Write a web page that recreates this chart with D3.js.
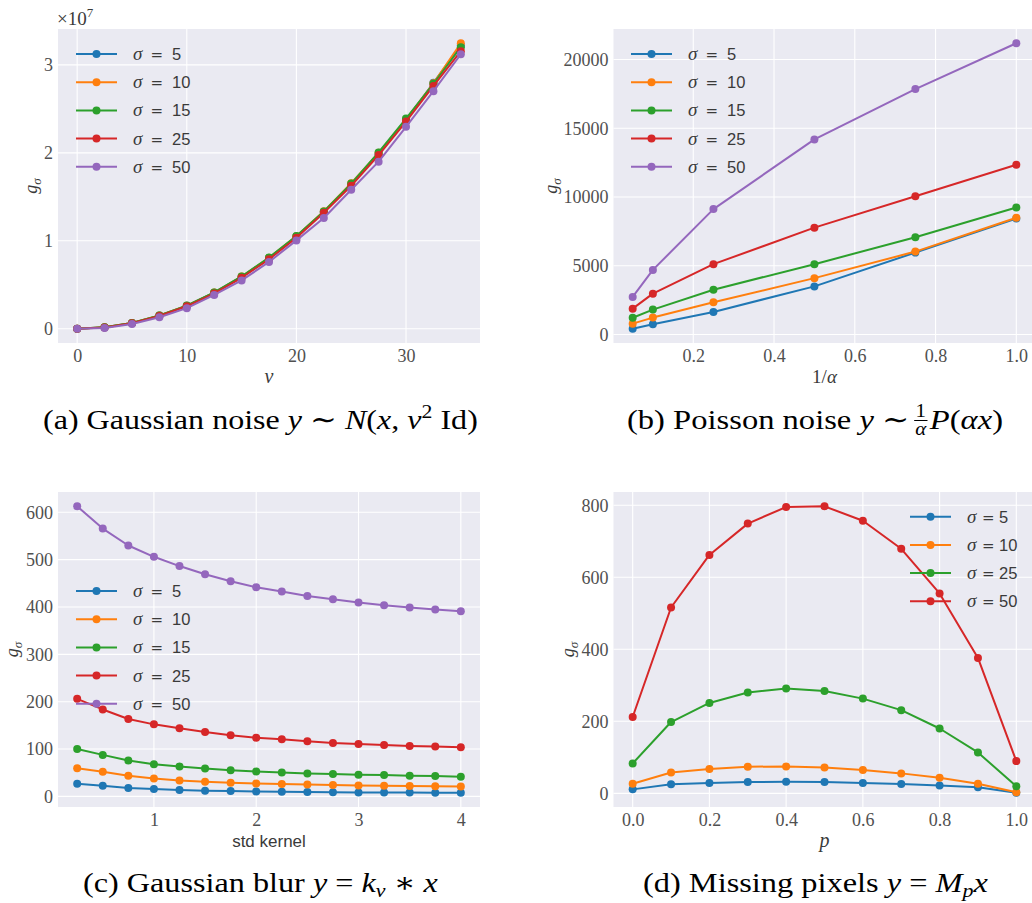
<!DOCTYPE html>
<html><head><meta charset="utf-8">
<script src="https://cdn.jsdelivr.net/npm/d3@7"></script>
<style>
body{margin:0;background:#fff;overflow:hidden;}
svg{display:block;}
</style></head><body>
<svg id="chart" width="1032" height="903"></svg>
<script>
// ---------- DATA ----------
const colorsFive = ["#1f77b4","#ff7f0e","#2ca02c","#d62728","#9467bd"];
const colorsFour = ["#1f77b4","#ff7f0e","#2ca02c","#d62728"];
const sigmaFive = ["5","10","15","25","50"];
const sigmaFour = ["5","10","25","50"];

// (a) Gaussian noise
const nuValues = [0,2.5,5,7.5,10,12.5,15,17.5,20,22.5,25,27.5,30,32.5,35];
const gaussS5  = [0.002e7,0.017e7,0.066e7,0.150e7,0.262e7,0.410e7,0.590e7,0.803e7,1.048e7,1.327e7,1.640e7,1.985e7,2.365e7,2.795e7,3.220e7];
const gaussS10 = [0.002e7,0.017e7,0.067e7,0.151e7,0.263e7,0.412e7,0.594e7,0.807e7,1.053e7,1.335e7,1.655e7,2.000e7,2.380e7,2.790e7,3.245e7];
const gaussS15 = [0.002e7,0.017e7,0.066e7,0.152e7,0.264e7,0.413e7,0.595e7,0.810e7,1.055e7,1.333e7,1.650e7,2.005e7,2.390e7,2.785e7,3.200e7];
const gaussS25 = [0.002e7,0.016e7,0.064e7,0.147e7,0.256e7,0.402e7,0.580e7,0.790e7,1.035e7,1.318e7,1.625e7,1.975e7,2.355e7,2.760e7,3.155e7];
const gaussS50 = [0.001e7,0.010e7,0.055e7,0.132e7,0.235e7,0.385e7,0.550e7,0.760e7,1.005e7,1.260e7,1.580e7,1.900e7,2.295e7,2.700e7,3.120e7];
const gaussXTicks = [0,10,20,30];
const gaussYTicks = [0,1e7,2e7,3e7];

// (b) Poisson noise
const invAlpha = [0.05,0.1,0.25,0.5,0.75,1.0];
const poisS5  = [420,740,1640,3500,5960,8440];
const poisS10 = [790,1230,2340,4100,6030,8490];
const poisS15 = [1220,1810,3260,5115,7070,9240];
const poisS25 = [1880,2970,5115,7770,10060,12350];
const poisS50 = [2730,4700,9120,14190,17850,21180];
const poisXTicks = [0.2,0.4,0.6,0.8,1.0];
const poisYTicks = [0,5000,10000,15000,20000];

// (c) Gaussian blur
const stdKernel = [0.25,0.5,0.75,1.0,1.25,1.5,1.75,2.0,2.25,2.5,2.75,3.0,3.25,3.5,3.75,4.0];
const blurS5  = [26.6,22.4,17.5,15.4,13.3,11.9,11.2,10.5,9.8,9.1,8.6,8.4,8.2,8.0,7.9,7.8];
const blurS10 = [59.6,51.9,43.5,37.9,33.6,30.8,28.7,27.3,25.9,25.2,23.8,23.1,22.4,21.7,21.2,21.0];
const blurS15 = [100.2,87.6,75.7,68.0,63.1,58.9,55.4,52.6,50.5,48.4,47.0,45.6,44.9,43.5,42.8,41.4];
const blurS25 = [206,183.6,163.3,152.1,143.7,136,129,124,120.6,116.4,112.9,110.7,108.6,106.5,105.1,103.7];
const blurS50 = [612.6,565.6,529.9,506,486.4,469,454.2,441.6,432.5,423.4,416.4,409.3,403.7,398.8,394.6,391.1];
const blurXTicks = [1,2,3,4];
const blurYTicks = [0,100,200,300,400,500,600];

// (d) Missing pixels
const pValues = [0,0.1,0.2,0.3,0.4,0.5,0.6,0.7,0.8,0.9,1.0];
const missS5  = [11,25,28.6,31.4,32.3,31.4,28.6,25.8,22,16.6,1.8];
const missS10 = [26.8,58,67.4,73.8,74.7,72,64.6,55.4,43.4,26.8,2.8];
const missS25 = [83,198,251,280,291,284,263,231,180,113.5,19.4];
const missS50 = [212,516,662,749,795,797,757,679,555,376,89.5];
const missXTicks = [0,0.2,0.4,0.6,0.8,1.0];
const missYTicks = [0,200,400,600,800];

// ---------- STYLE ----------
const SERIF = "'Liberation Serif','DejaVu Serif',serif";
const SANS = "'Liberation Sans','DejaVu Sans',sans-serif";
const TICK_COLOR = "#505050";
const TEXT_COLOR = "#3a3a3a";
const svg = d3.select("#chart");

function rich(sel, parts){
  let shift = 0;
  parts.forEach(p=>{
    const ts = sel.append("tspan").text(p.t);
    if(p.i) ts.attr("font-style","italic");
    if(p.f) ts.attr("font-family",p.f);
    if(p.s) ts.attr("font-size",p.s);
    if(p.dx) ts.attr("dx",p.dx);
    const target = p.dy || 0;
    if(target !== shift){ ts.attr("dy", target - shift); shift = target; }
  });
  return sel;
}

function pad(lo,hi){ const r = hi-lo; return [lo-0.05*r, hi+0.05*r]; }

function drawPanel(p){
  const g = svg.append("g").attr("transform",`translate(${p.left},${p.top})`);
  const all = p.series.flat();
  const x = d3.scaleLinear().domain(pad(d3.min(p.x), d3.max(p.x))).range([0,p.width]);
  const y = d3.scaleLinear().domain(pad(d3.min(all), d3.max(all))).range([p.height,0]);

  g.append("rect").attr("width",p.width).attr("height",p.height).attr("fill","#eaeaf2");
  g.append("g").selectAll("line").data(p.xTicks).enter().append("line")
    .attr("x1",d=>x(d)).attr("x2",d=>x(d)).attr("y1",0).attr("y2",p.height)
    .attr("stroke","#fff").attr("stroke-width",1.1);
  g.append("g").selectAll("line").data(p.yTicks).enter().append("line")
    .attr("y1",d=>y(d)).attr("y2",d=>y(d)).attr("x1",0).attr("x2",p.width)
    .attr("stroke","#fff").attr("stroke-width",1.1);

  const xa = g.append("g").attr("transform",`translate(0,${p.height})`)
    .call(d3.axisBottom(x).tickValues(p.xTicks).tickFormat(p.xFmt).tickSize(0).tickPadding(6));
  xa.attr("font-family",SERIF).attr("font-size",18);
  xa.select(".domain").remove();
  xa.selectAll("text").attr("font-family",SERIF).attr("font-size",18).attr("fill",TICK_COLOR);
  const ya = g.append("g")
    .call(d3.axisLeft(y).tickValues(p.yTicks).tickFormat(p.yFmt).tickSize(0).tickPadding(5));
  ya.attr("font-family",SERIF).attr("font-size",18);
  ya.select(".domain").remove();
  ya.selectAll("text").attr("font-family",SERIF).attr("font-size",18).attr("fill",TICK_COLOR);

  const line = d3.line().x(d=>x(d[0])).y(d=>y(d[1]));
  p.series.forEach((s,i)=>{
    const data = p.x.map((xv,j)=>[xv,s[j]]);
    g.append("path").datum(data).attr("d",line).attr("fill","none")
      .attr("stroke",p.colors[i]).attr("stroke-width",2).attr("stroke-linejoin","round");
    g.append("g").selectAll("circle").data(data).enter().append("circle")
      .attr("cx",d=>x(d[0])).attr("cy",d=>y(d[1])).attr("r",4).attr("fill",p.colors[i]);
  });

  // legend
  const L = p.legend;
  p.labels.forEach((lab,i)=>{
    const ry = L.y + i*28.2;
    g.append("line").attr("x1",L.x).attr("x2",L.x+41).attr("y1",ry).attr("y2",ry)
      .attr("stroke",p.colors[i]).attr("stroke-width",2);
    g.append("circle").attr("cx",L.x+20.5).attr("cy",ry).attr("r",4).attr("fill",p.colors[i]);
    const t = g.append("text").attr("y",ry+6).attr("fill",TEXT_COLOR).attr("font-size",17);
    t.append("tspan").attr("x",L.x+57).attr("font-family",SERIF).attr("font-style","italic").attr("font-size",19).text("σ");
    t.append("tspan").attr("x",L.x+57+L.eq).attr("font-family","'DejaVu Serif',serif").attr("font-size",15).text("=");
    t.append("tspan").attr("x",L.x+57+L.num).attr("font-family",SANS).attr("font-size",16.5).text(lab);
  });

  // x label
  const xl = g.append("text").attr("x",p.width/2).attr("y",p.height+40)
    .attr("text-anchor","middle").attr("fill",TEXT_COLOR).attr("font-family",SERIF).attr("font-size",19);
  rich(xl,p.xLabel);
  // y label
  const yl = g.append("text").attr("transform",`translate(${p.yLabelX},${p.height/2}) rotate(-90)`)
    .attr("text-anchor","middle").attr("fill",TEXT_COLOR).attr("font-family",SERIF).attr("font-size",18);
  rich(yl,[{t:"g",i:1},{t:"σ",i:1,s:13,dy:4}]);
  return g;
}

// Panel (a)
const gA = drawPanel({left:58,top:29,width:422,height:314,
  x:nuValues, series:[gaussS5,gaussS10,gaussS15,gaussS25,gaussS50], colors:colorsFive, labels:sigmaFive,
  xTicks:gaussXTicks, yTicks:gaussYTicks, xFmt:d3.format("d"), yFmt:d=>d3.format("d")(d/1e7),
  legend:{x:18,y:25,eq:17.5,num:39}, xLabel:[{t:"ν",i:1,s:20}], yLabelX:-21});
const off = gA.append("text").attr("x",-1).attr("y",-4).attr("fill",TEXT_COLOR)
  .attr("font-family",SERIF).attr("font-size",19);
rich(off,[{t:"×10"},{t:"7",s:13,dy:-8}]);

// Panel (b)
drawPanel({left:613.5,top:29,width:422,height:314,
  x:invAlpha, series:[poisS5,poisS10,poisS15,poisS25,poisS50], colors:colorsFive, labels:sigmaFive,
  xTicks:poisXTicks, yTicks:poisYTicks, xFmt:d3.format(".1f"), yFmt:d3.format("d"),
  legend:{x:17.5,y:25,eq:17.5,num:39}, xLabel:[{t:"1/"},{t:"α",i:1}], yLabelX:-57});

// Panel (c)
drawPanel({left:58,top:492,width:422,height:315,
  x:stdKernel, series:[blurS5,blurS10,blurS15,blurS25,blurS50], colors:colorsFive, labels:sigmaFive,
  xTicks:blurXTicks, yTicks:blurYTicks, xFmt:d3.format("d"), yFmt:d3.format("d"),
  legend:{x:18,y:99,eq:17.5,num:39}, xLabel:[{t:"std kernel",f:SANS,s:17}], yLabelX:-40});

// Panel (d)
drawPanel({left:613.5,top:492,width:422,height:315,
  x:pValues, series:[missS5,missS10,missS25,missS50], colors:colorsFour, labels:sigmaFour,
  xTicks:missXTicks, yTicks:missYTicks, xFmt:d3.format(".1f"), yFmt:d3.format("d"),
  legend:{x:296.5,y:24.7,eq:15,num:32},xLabel:[{t:"p",i:1,s:20}], yLabelX:-40});

// ---------- CAPTIONS ----------
function caption(cx, base, targetW, partsBefore, frac, partsAfter){
  const g = svg.append("g");
  const mk = (parts)=>{ const t = g.append("text").attr("y",base).attr("font-family",SERIF)
      .attr("font-size",28).attr("fill","#000"); rich(t,parts); return t; };
  const t1 = mk(partsBefore).attr("x",0);
  let w = t1.node().getComputedTextLength();
  if(frac){
    w += 4;
    const n = g.append("text").attr("y",base-12).attr("font-family",SERIF).attr("font-size",18).attr("text-anchor","middle").text(frac[0]);
    const d = g.append("text").attr("y",base+6).attr("font-family",SERIF).attr("font-size",18).attr("font-style","italic").attr("text-anchor","middle").text(frac[1]);
    const fw = Math.max(n.node().getComputedTextLength(), d.node().getComputedTextLength())+2;
    n.attr("x",w+fw/2); d.attr("x",w+fw/2);
    g.append("line").attr("x1",w).attr("x2",w+fw).attr("y1",base-8.5).attr("y2",base-8.5).attr("stroke","#000").attr("stroke-width",1);
    w += fw+2;
    const t2 = mk(partsAfter).attr("x",w);
    w += t2.node().getComputedTextLength();
  }
  const sx = targetW / w;
  g.attr("transform",`translate(${cx - w*sx/2},0) scale(${sx},1)`);
}
caption(260.5,429,435,[{t:"(a) Gaussian noise "},{t:"y",i:1},{t:" ∼ "},{t:"N",i:1},{t:"("},{t:"x",i:1},{t:", "},{t:"ν",i:1},{t:"2",s:19,dy:-11},{t:" Id)",dy:0}]);
caption(815,429,376,[{t:"(b) Poisson noise "},{t:"y",i:1},{t:" ∼ "}],["1","α"],[{t:"P",i:1},{t:"("},{t:"αx",i:1},{t:")"}]);
caption(260.5,892,355,[{t:"(c) Gaussian blur "},{t:"y",i:1},{t:" = "},{t:"k",i:1},{t:"ν",i:1,s:19,dy:5},{t:" ∗ ",dy:0},{t:"x",i:1}]);
caption(815.5,892,345,[{t:"(d) Missing pixels "},{t:"y",i:1},{t:" = "},{t:"M",i:1},{t:"p",i:1,s:19,dy:5},{t:"x",i:1,dy:0}]);
</script>
</body></html>
